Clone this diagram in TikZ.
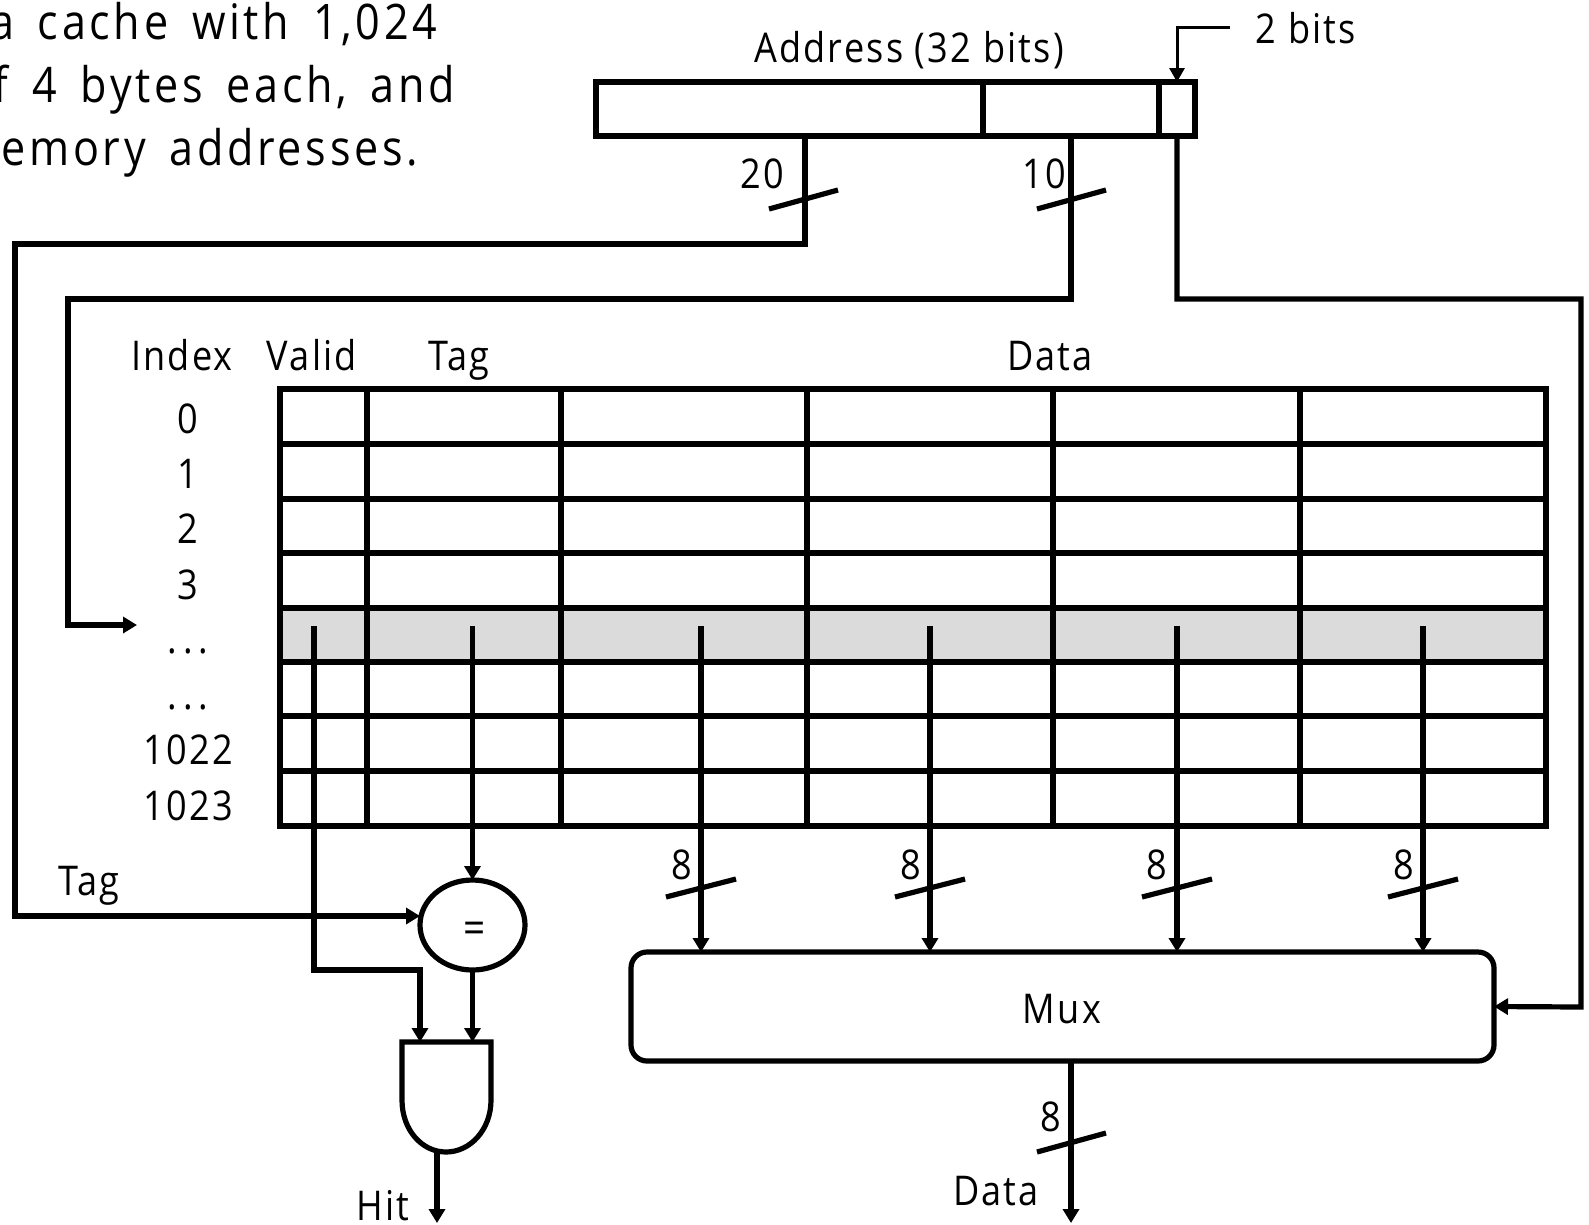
\documentclass[tikz,border=0pt]{standalone}
\usepackage{fontspec}
\setmainfont{Open Sans}[FakeStretch=0.88,LetterSpace=5.5]
\newfontfamily\introfont{Open Sans}[FakeStretch=0.88,LetterSpace=7.5,WordSpace=1.6]
\usetikzlibrary{arrows.meta,shapes.geometric,calc}
\tikzset{
  wire/.style={line width=5.2pt,line join=miter,black},
  arr/.style={wire,-{Triangle[length=14pt,width=16pt]}},
  thinarr/.style={line width=3pt,black,-{Triangle[length=14pt,width=15pt]}},
  cellbox/.style={draw=black,line width=5.2pt,rectangle,inner sep=0,outer sep=0},
  lbl/.style={inner sep=0,outer sep=0,anchor=base,font=\fontsize{41}{48}\selectfont},
  big/.style={inner sep=0,outer sep=0,anchor=base east,font=\introfont\fontsize{49}{56}\selectfont},
}
\begin{document}
\begin{tikzpicture}[x=1pt,y=-1pt]
\clip (0,0) rectangle (1589,1224);
\useasboundingbox (0,0) rectangle (1589,1224);
\fill[white] (0,0) rectangle (1589,1224);
% intro text
\node[big] (introA) at (437,39) {a cache with 1,024};
\node[big] (introB) at (455,102) {f 4 bytes each, and};
\node[big] (introC) at (418,165) {memory addresses.};
% address register
\node[cellbox,minimum width=387pt,minimum height=54pt] (addrTag) at (789.5,109) {};
\node[cellbox,minimum width=176pt,minimum height=54pt] (addrIdx) at (1071,109) {};
\node[cellbox,minimum width=36pt,minimum height=54pt] (addrOff) at (1177,109) {};
\node[lbl] (addrLbl) at (909,62) {Address (32 bits)};
\node[lbl] (twoLbl) at (1306,43) {2 bits};
\coordinate (twoEnd) at (1230,27);
\draw[thinarr] (twoEnd) -- (addrOff.north |- twoEnd) -- (addrOff.north);
% cache table
\foreach \r/\ya/\yb/\fc in {0/389/444/white,1/444/499/white,2/499/553/white,3/553/608/white,4/608/662/black!14,5/662/716/white,6/716/771/white,7/771/826/white}{
  \foreach \c/\xa/\xb in {0/280/367,1/367/561,2/561/807,3/807/1053,4/1053/1300,5/1300/1546}{
    \node[cellbox,fill=\fc,minimum width={(\xb-\xa)*1pt},minimum height={(\yb-\ya)*1pt}] (cell\r\c) at ({(\xa+\xb)/2},{(\ya+\yb)/2}) {};
  }
}
% headers
\node[lbl] (hIndex) at (182,370) {Index};
\node[lbl] (hValid) at (312,370) {Valid};
\node[lbl] (hTag) at (459,370) {Tag};
\node[lbl] (hData) at (1050,370) {Data};
\node[lbl] (i0) at (188,433) {0};
\node[lbl] (i1) at (188,488) {1};
\node[lbl] (i2) at (188,543) {2};
\node[lbl] (i3) at (188,599) {3};
\node[lbl] (d1) at (188,653) {.\kern6pt.\kern6pt.};
\node[lbl] (d2) at (188,709) {.\kern6pt.\kern6pt.};
\node[lbl] (i1022) at (188,764) {1022};
\node[lbl] (i1023) at (188,820) {1023};
% comparator, and gate, mux
\node[ellipse,draw=black,line width=5.2pt,fill=white,minimum width=105pt,minimum height=90pt,inner sep=0,outer sep=0] (eq) at (472.5,925) {};
\node[inner sep=0,anchor=base,font=\fontsize{44}{50}\selectfont] (eqLbl) at (475,943) {=};
\node[draw=black,line width=5.2pt,rounded corners=16pt,minimum width=863pt,minimum height=109pt,inner sep=0,outer sep=0] (mux) at (1062.5,1006.5) {};
\node[lbl] (muxLbl) at (1062,1023) {Mux};
\coordinate (andTL) at (402,1042);
\coordinate (andTR) at (491,1042);
\coordinate (andBot) at (446,1152);
\draw[wire] (andTL) -- (andTR) -- (491,1100) .. controls (491,1130) and (470,1152) .. (andBot) .. controls (422,1152) and (402,1130) .. (402,1100) -- cycle;
% tag path
\draw[arr] ([xshift=15.5pt]addrTag.south) -- ++(0,108) -| (15,916) -- (eq.west |- 0,916);
\node[lbl] (tagLbl) at (89,895) {Tag};
\node[lbl] (n20) at (762,188) {20};
\coordinate (s20a) at (769,209); \coordinate (s20b) at (838,190);
\draw[wire] (s20a) -- (s20b);
% index path
\draw[arr] (addrIdx.south) -- ++(0,163) -| (68,625) -- (137,625);
\node[lbl] (n10) at (1044,188) {10};
\coordinate (s10a) at (1037,209); \coordinate (s10b) at (1106,190);
\draw[wire] (s10a) -- (s10b);
% offset path
\draw[arr] (addrOff.south) -- ++(0,163) -| (1581,1007) -- (mux.east);
% valid and tag out
\coordinate (vOut) at (314,626);
\coordinate (tOut) at (472.5,626);
\coordinate (andInA) at (420,1042);
\coordinate (andInB) at (472.5,1042);
\draw[arr] (vOut) -- (314,970) -| (andInA);
\draw[arr] (tOut) -- (eq.north -| tOut);
\draw[arr] (eq.south) -- (andInB);
\coordinate (andOut) at (437,1152);
\coordinate (hitEnd) at (437,1223);
\draw[arr] (andOut) -- (hitEnd);
\node[lbl] (hitLbl) at (383,1220) {Hit};
% data lines
\foreach \n/\x/\lx in {A/701/682,B/930/911,C/1177/1157,D/1423/1404}{
  \coordinate (dOut\n) at (\x,626);
  \draw[arr] (dOut\n) -- (dOut\n |- mux.north);
  \node[lbl] (n8\n) at (\lx,879) {8};
  \coordinate (sa\n) at (\x-35,897); \coordinate (sb\n) at (\x+35,879);
  \draw[wire] (sa\n) -- (sb\n);
}
% mux output
\coordinate (muxOut) at (1071,1223);
\draw[arr] (mux.south -| muxOut) -- (muxOut);
\node[lbl] (n8out) at (1051,1131) {8};
\coordinate (soa) at (1037,1152); \coordinate (sob) at (1106,1133);
\draw[wire] (soa) -- (sob);
\node[lbl] (dataOut) at (996,1205) {Data};
\end{tikzpicture}
\end{document}
